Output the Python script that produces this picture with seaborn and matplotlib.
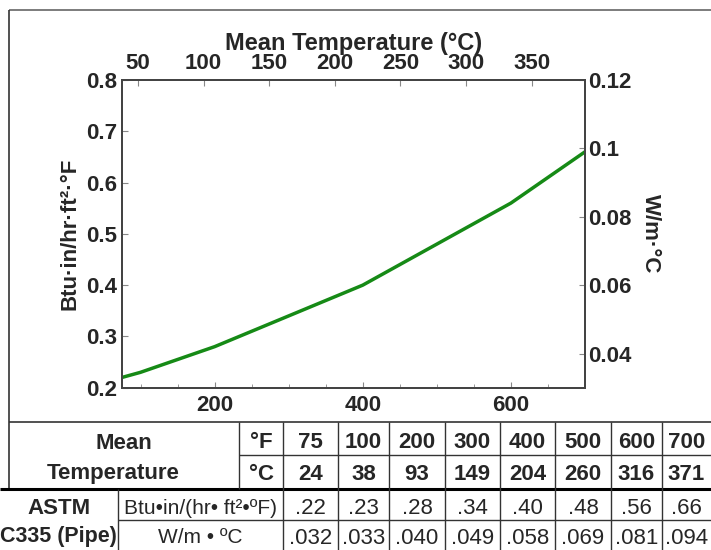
import matplotlib
matplotlib.use("Agg")
import matplotlib.pyplot as plt
import seaborn as sns
from matplotlib.ticker import FuncFormatter, MultipleLocator

# thermal conductivity data (ASTM C335, pipe)
temps_f = [75, 100, 200, 300, 400, 500, 600, 700]
temps_c = [24, 38, 93, 149, 204, 260, 316, 371]
k_btu = [0.22, 0.23, 0.28, 0.34, 0.40, 0.48, 0.56, 0.66]
k_si = [0.032, 0.033, 0.040, 0.049, 0.058, 0.069, 0.081, 0.094]

# axis ranges as drawn in the original
f_lim = (75, 700)
c_lim = (37.8, 390.6)
btu_lim = (0.2, 0.8)
si_lim = (0.03, 0.12)

GREEN = "#168a16"
SPINE = "#444444"
W, H = 711, 550

sns.set_style("ticks")
plt.rcParams["font.family"] = ["Liberation Sans", "DejaVu Sans"]
plt.rcParams["font.weight"] = "bold"
plt.rcParams["axes.labelweight"] = "bold"

fig = plt.figure(figsize=(W / 100, H / 100), dpi=100)

# --- frame + table drawn in pixel coordinates ---
tab = fig.add_axes([0, 0, 1, 1], zorder=0)
tab.set_xlim(0, W)
tab.set_ylim(H, 0)
tab.axis("off")

lc = "#333333"
tab.hlines(10, 9, W, color="#666666", lw=1.2)
tab.vlines(9, 10, 489, color=lc, lw=1.2)
tab.hlines(422, 9, W, color=lc, lw=1.2)
tab.hlines(455, 239, W, color=lc, lw=1.0)
tab.hlines(489, 0, W, color="black", lw=2.2)
tab.hlines(520, 118, W, color=lc, lw=1.0)
tab.vlines(239, 422, 489, color=lc, lw=1.0)
tab.vlines(118, 489, H, color=lc, lw=1.0)

col_edges = [283, 338, 389, 445, 500, 555, 611, 662, 711]
for x in col_edges[:-1]:
    tab.vlines(x, 422, H, color=lc, lw=1.0)
centers = [(a + b) / 2 for a, b in zip(col_edges[:-1], col_edges[1:])]

fs = 16
tab.text(124, 449, "Mean", ha="center", va="baseline", fontsize=16)
tab.text(113, 479, "Temperature", ha="center", va="baseline", fontsize=16)
tab.text(261, 448, "°F", ha="center", va="baseline", fontsize=fs)
tab.text(261, 480, "°C", ha="center", va="baseline", fontsize=fs)
tab.text(59, 514, "ASTM", ha="center", va="baseline", fontsize=16)
tab.text(58, 542, "C335 (Pipe)", ha="center", va="baseline", fontsize=15.5)
tab.text(200, 514, "Btu•in/(hr• ft²•ºF)", ha="center", va="baseline",
         fontsize=15, fontweight="normal")
tab.text(200, 543, "W/m • ºC", ha="center", va="baseline",
         fontsize=15, fontweight="normal")

for cx, tf, tc, kb, ks in zip(centers, temps_f, temps_c, k_btu, k_si):
    tab.text(cx, 448, str(tf), ha="center", va="baseline", fontsize=fs)
    tab.text(cx, 480, str(tc), ha="center", va="baseline", fontsize=fs)
    tab.text(cx, 514, f"{kb:.2f}".lstrip("0"), ha="center", va="baseline",
             fontsize=fs, fontweight="normal")
    tab.text(cx, 544, f"{ks:.3f}".lstrip("0"), ha="center", va="baseline",
             fontsize=fs, fontweight="normal")

# --- chart ---
ax = fig.add_axes([122 / W, 1 - 387.7 / H, 463 / W, 307.7 / H], zorder=2)
sns.lineplot(x=temps_f, y=k_btu, ax=ax, color=GREEN, linewidth=2.5)
ax.set_xlim(f_lim)
ax.set_ylim(btu_lim)
ax.xaxis.set_major_locator(MultipleLocator(200))
ax.xaxis.set_minor_locator(MultipleLocator(50))
ax.yaxis.set_major_locator(MultipleLocator(0.1))
ax.yaxis.set_major_formatter(FuncFormatter(lambda v, p: f"{v:.1f}"))
ax.tick_params(axis="x", which="both", direction="in", pad=5.5, labelsize=16,
               color="#888888", length=4)
ax.tick_params(axis="x", which="minor", length=3)
ax.tick_params(axis="y", direction="in", pad=3.6, labelsize=16,
               color="#888888", length=4)
ax.set_ylabel("Btu·in/hr·ft²·°F", fontsize=16, labelpad=4)

ax_top = ax.twiny()
ax_top.set_xlim(c_lim)
ax_top.xaxis.set_major_locator(MultipleLocator(50))
ax_top.tick_params(axis="x", direction="in", pad=4, labelsize=16,
                   color="#888888", length=4)
ax_top.set_xlabel("Mean Temperature (°C)", fontsize=17, labelpad=2.5)

ax_r = ax.twinx()
ax_r.set_ylim(si_lim)
ax_r.yaxis.set_major_locator(MultipleLocator(0.02))
ax_r.yaxis.set_major_formatter(FuncFormatter(lambda v, p: f"{v:g}"))
ax_r.tick_params(axis="y", direction="in", pad=2, labelsize=16,
                 color="#888888", length=4)
ax_r.set_ylabel("W/m·°C", fontsize=16, rotation=270, va="bottom", labelpad=6)

for a in (ax, ax_top, ax_r):
    for s in a.spines.values():
        s.set_color(SPINE)
        s.set_linewidth(1.4)

fig.savefig("out.png", dpi=100)
